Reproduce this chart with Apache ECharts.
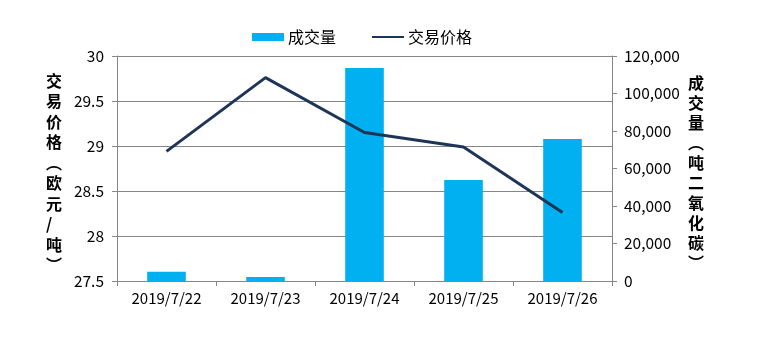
<!DOCTYPE html>
<html>
<head>
<meta charset="utf-8">
<script src="https://cdn.jsdelivr.net/npm/echarts@6/dist/echarts.min.js"></script>
<style>
  html, body { margin: 0; padding: 0; background: #fff; }
  #chart { width: 774px; height: 346px; }
</style>
</head>
<body>
<div id="chart"></div>
<script>
// Trading dates
const dates = ['2019/7/22', '2019/7/23', '2019/7/24', '2019/7/25', '2019/7/26'];
// Volume traded (tonnes CO2)
const volume = [5000, 2100, 113600, 53900, 75700];
// Trading price (EUR / tonne)
const price = [28.94, 29.76, 29.15, 28.99, 28.26];

const FONT = "'Microsoft YaHei', 'Noto Sans CJK SC', sans-serif";
const AXIS_GRAY = '#868686';

const chart = echarts.init(document.getElementById('chart'));

function vertical(s) { return s.split('').join('\n'); }

chart.setOption({
  animation: false,
  backgroundColor: '#ffffff',
  textStyle: { fontFamily: FONT },
  legend: {
    top: 24,
    left: 247,
    itemGap: 36,
    itemWidth: 32,
    itemHeight: 8,
    textStyle: { fontSize: 16, color: '#000', fontFamily: FONT, padding: [0, 0, 0, -1] },
    data: [
      { name: '成交量', icon: 'rect' },
      { name: '交易价格', icon: 'path://M0,3 L32,3 L32,5.2 L0,5.2 Z' }
    ]
  },
  grid: { left: 117, right: 162, top: 56, bottom: 65 },
  xAxis: {
    type: 'category',
    data: dates,
    boundaryGap: true,
    axisLine: { lineStyle: { color: AXIS_GRAY, width: 1 } },
    axisTick: { show: true, length: 5, inside: false, lineStyle: { color: AXIS_GRAY } },
    axisLabel: { color: '#000', fontSize: 15, margin: 10, fontFamily: FONT }
  },
  yAxis: [
    {
      type: 'value',
      min: 27.5, max: 30, interval: 0.5,
      position: 'left',
      axisLine: { show: true, lineStyle: { color: AXIS_GRAY } },
      axisTick: { show: true, length: 5, lineStyle: { color: AXIS_GRAY } },
      axisLabel: { color: '#000', fontSize: 15.5, margin: 13, fontFamily: FONT },
      splitLine: { show: true, lineStyle: { color: AXIS_GRAY, width: 1 } }
    },
    {
      type: 'value',
      min: 0, max: 120000, interval: 20000,
      position: 'right',
      axisLine: { show: true, lineStyle: { color: AXIS_GRAY } },
      axisTick: { show: true, length: 5, lineStyle: { color: AXIS_GRAY } },
      axisLabel: {
        color: '#000', fontSize: 15.5, margin: 12, fontFamily: FONT,
        formatter: v => String(v).replace(/\B(?=(\d{3})+(?!\d))/g, ',')
      },
      splitLine: { show: false }
    }
  ],
  graphic: [
    {
      type: 'text', left: 46, top: 'center',
      style: {
        text: vertical('交易价格︵欧元/吨︶'),
        font: "bold 16px " + FONT, fill: '#000', lineHeight: 20.5, align: 'center'
      }
    },
    {
      type: 'text', left: 688, top: 'center',
      style: {
        text: vertical('成交量︵吨二氧化碳︶'),
        font: "bold 16px " + FONT, fill: '#000', lineHeight: 20, align: 'center'
      }
    }
  ],
  series: [
    {
      name: '成交量',
      type: 'bar',
      yAxisIndex: 1,
      data: volume,
      barWidth: '39%',
      itemStyle: { color: '#00B0F0' }
    },
    {
      name: '交易价格',
      type: 'line',
      yAxisIndex: 0,
      data: price,
      symbol: 'none',
      lineStyle: { color: '#1F3557', width: 3 },
      itemStyle: { color: '#1F3557' }
    }
  ]
});
</script>
</body>
</html>
